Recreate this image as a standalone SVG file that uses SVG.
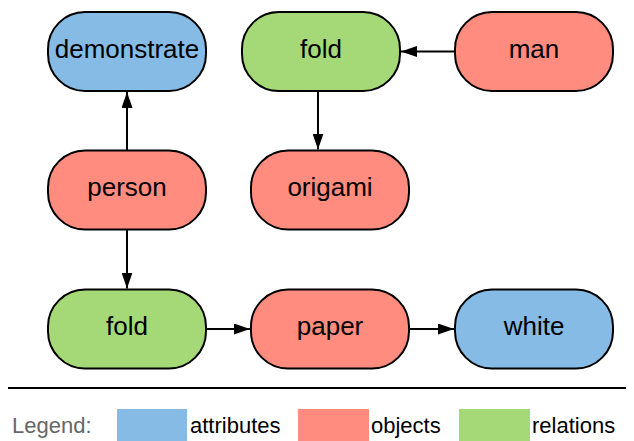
<svg xmlns="http://www.w3.org/2000/svg" width="634" height="441" viewBox="0 0 634 441">
  <defs>
    <style>
      .node rect { stroke: #000; stroke-width: 2; }
      .attr rect { fill: #85bbe5; }
      .obj rect { fill: #ff8c7f; }
      .rel rect { fill: #a5d978; }
      .node text { font-family: "Liberation Sans", Arial, sans-serif; font-size: 26px; fill: #000; text-anchor: middle; }
      .edge { stroke: #000; stroke-width: 2; fill: none; marker-end: url(#arrow); }
      .legend text { font-family: "Liberation Sans", Arial, sans-serif; font-size: 22px; fill: #000; }
    </style>
    <marker id="arrow" viewBox="0 0 16 11" refX="16" refY="5.5" markerWidth="16" markerHeight="11" markerUnits="userSpaceOnUse" orient="auto">
      <path d="M0,0 L16,5.5 L0,11 Z" fill="#000"/>
    </marker>
  </defs>
  <rect width="634" height="441" fill="#fff"/>

  <!-- nodes -->
  <g id="demonstrate" class="node attr">
    <rect x="48" y="12" width="158" height="79" rx="37" ry="37"/>
    <text x="127" y="57.5">demonstrate</text>
  </g>
  <g id="fold-top" class="node rel">
    <rect x="242" y="12" width="158" height="79" rx="37" ry="37"/>
    <text x="321" y="57.5">fold</text>
  </g>
  <g id="man" class="node obj">
    <rect x="455" y="12" width="158" height="79" rx="37" ry="37"/>
    <text x="534" y="57.5">man</text>
  </g>
  <g id="person" class="node obj">
    <rect x="48" y="150.5" width="158" height="79" rx="37" ry="37"/>
    <text x="127" y="196">person</text>
  </g>
  <g id="origami" class="node obj">
    <rect x="251" y="150.5" width="158" height="79" rx="37" ry="37"/>
    <text x="330" y="196">origami</text>
  </g>
  <g id="fold-bottom" class="node rel">
    <rect x="48" y="289.5" width="158" height="79" rx="37" ry="37"/>
    <text x="127" y="335">fold</text>
  </g>
  <g id="paper" class="node obj">
    <rect x="251" y="289.5" width="158" height="79" rx="37" ry="37"/>
    <text x="330" y="335">paper</text>
  </g>
  <g id="white" class="node attr">
    <rect x="455" y="289.5" width="158" height="79" rx="37" ry="37"/>
    <text x="534" y="335">white</text>
  </g>

  <!-- connectors -->
  <g id="edges">
    <line class="edge" x1="454" y1="51.5" x2="401" y2="51.5"/>
    <line class="edge" x1="318" y1="91" x2="318" y2="149.5"/>
    <line class="edge" x1="127" y1="150.5" x2="127" y2="92"/>
    <line class="edge" x1="127" y1="229.5" x2="127" y2="288.5"/>
    <line class="edge" x1="206" y1="329" x2="250" y2="329"/>
    <line class="edge" x1="409" y1="329" x2="454" y2="329"/>
  </g>

  <!-- legend -->
  <line x1="8" y1="388" x2="626" y2="388" stroke="#000" stroke-width="2"/>
  <g class="legend">
    <text x="12" y="433" fill="#666" style="fill:#666">Legend:</text>
    <rect x="117" y="409" width="70" height="32" fill="#85bbe5"/>
    <text x="190" y="433">attributes</text>
    <rect x="298" y="409" width="71" height="32" fill="#ff8c7f"/>
    <text x="371" y="433">objects</text>
    <rect x="459" y="409" width="71" height="32" fill="#a5d978"/>
    <text x="532" y="433">relations</text>
  </g>
</svg>
